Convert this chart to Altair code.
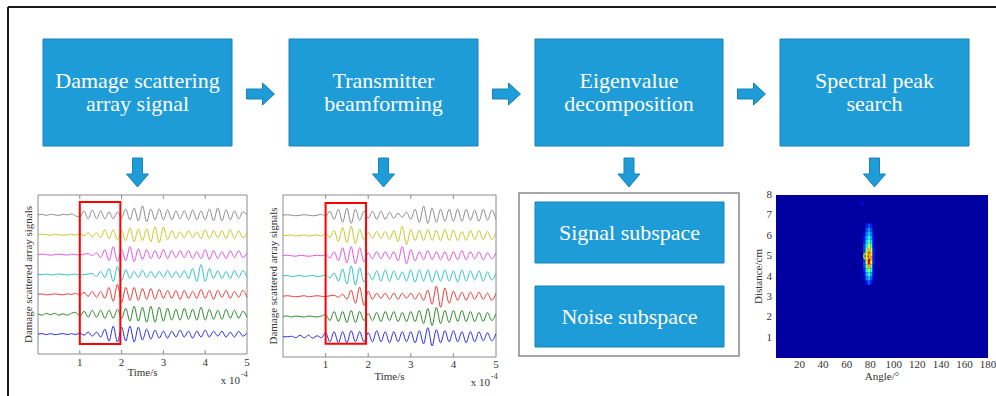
import altair as alt
import pandas as pd

W, H = 996, 396
SERIF = "Liberation Serif"
BLUE = "#1e9cd7"
BLUE_EDGE = "#1982b8"
INK = "#333333"

# ---------------- diagram content ----------------
step_labels = ["Damage scattering\narray signal", "Transmitter\nbeamforming",
               "Eigenvalue\ndecomposition", "Spectral peak\nsearch"]
box_x0 = [43, 289, 535, 780]
box_x1 = [232, 478, 723, 969]
box_y0, box_y1 = 39, 146

sub_labels = ["Signal subspace", "Noise subspace"]
sub_x0, sub_x1 = 535, 724
sub_y0 = [202, 286]
sub_y1 = [263, 347]
frame3 = [519, 739, 193, 356]

# ---------------- signal panels (time in units of 1e-4 s, step 0.1) ----------------
trace_names = ["gray", "yellow", "magenta", "cyan", "red", "green", "blue"]
trace_colors = ["#8c8c8c", "#c9c92a", "#e055e0", "#2ec4c4", "#ee3b3b", "#2a8a2a", "#2b2bef"]

p1_gray = [0, 0.5, -0.5, 0.5, 0, -0.5, 0.5, 0, 1, -1,
           -2, 4, -4, 5, -4, 4, -4, 3, -4, 3, -3, 6, -5, 7, -6, 9, -7, 6, -5, 6,
           -5, 5, -5, 4, -4, 4, -5, 5, -5, 4, -5, 6, -6, 7, -6, 5, -5, 4, -4, 3, 0]
p1_yellow = [0, 0.5, 0, -0.5, 0.5, 0, -0.5, 0, 0.5, -0.5,
             1, -1, 2, -2, 2, -3, 5, -4, 5, -5, 4, -6, 7, -7, 6, -6, 6, -7, 8, -8,
             8, -5, 4, -4, 3, -3, 4, -3, 3, -4, 5, -4, 4, -3, 4, -4, 5, -4, 4, -3, 2]
p1_magenta = [0, 0.5, 0, -0.5, 0, 0.5, 0, -0.5, 0.5, 0, -0.5, 0.5,
              1, -1, 2, -3, 5, -6, 8, -7, 5, -6, 8, -7, 6, -5, 5, -4, 4, -4,
              5, -4, 4, -3, 4, -3, 4, -4, 3, -4, 5, -5, 4, -4, 3, -4, 4, -3, 4, -3, 2]
p1_cyan = [0, 0, 0.5, -0.5, 0, 0.5, 0, -0.5, 0, 0.5, -0.5, 0, 0.5,
           1, -2, 3, -3, 6, -7, 8, -6, 5, -4, 3, -3, 4, -3, 3, -3, 3,
           -3, 4, -3, 3, -3, 4, -4, 6, -7, 10, -7, 6, -4, 4, -4, 3, -4, 4, -3, 4, -3]
p1_red = [0, 0.5, -0.5, 0, 0.5, 0, -0.5, 0.5, 0,
          1, -1, 2, -2, 3, -3, 3, -4, 7, -7, 10, -8, 7, -6, 7, -6, 6, -5, 6, -5, 5,
          -4, 4, -4, 4, -5, 4, -4, 3, -4, 5, -4, 4, -5, 4, -3, 4, -4, 3, -3, 4, -3]
p1_green = [0.5, -1, 1, -0.5, 1, -1, 0.5, -1, 1,
            2, -2, 3, -3, 4, -3, 4, -4, 4, -4, 5, -4, 6, -7, 8, -7, 7, -8, 8, -8, 7,
            -7, 6, -6, 5, -6, 6, -5, 5, -6, 7, -6, 5, -5, 4, -5, 5, -4, 4, -4, 3, -3]
p1_blue = [0, 0.5, -0.5, 0.5, -0.5, 0, 0.5, -0.5, 0.5, -0.5,
           1, -1, 2, -2, 2, -3, 5, -7, 8, -8, 7, -7, 8, -8, 7, -6, 5, -5, 4, -4,
           3, -4, 3, -3, 4, -3, 3, -4, 3, -3, 4, -3, 3, -2, 3, -3, 2, -3, 3, -2, 1]

p2_gray = [0, 0.5, 0, -0.5, 0, 0.5, 0, -0.5, 0,
           1, -1, 4, -4, 6, -7, 7, -8, 6, -5, 4, -3, 4, -4, 4, -4, 3, -3, 2, -2, 3,
           -4, 6, -7, 9, -8, 7, -7, 6, -6, 6, -6, 6, -6, 6, -5, 5, -6, 6, -5, 5, -4]
p2_yellow = [0, 0, 0.5, -0.5, 0, 0.5, -0.5, 0, 0.5, -0.5,
             2, -2, 5, -6, 8, -7, 9, -8, 6, -4, 3, -3, 4, -3, 4, -4, 5, -6, 9, -9,
             6, -5, 5, -5, 6, -5, 5, -5, 6, -5, 5, -5, 4, -5, 5, -4, 5, -4, 4, -4, 3]
p2_magenta = [0, 0.5, 0, -0.5, 0.5, 0, -0.5, 0, 0.5, 0,
              1, -2, 4, -5, 8, -7, 9, -8, 8, -6, 3, -3, 4, -3, 4, -3, 4, -5, 9, -8,
              6, -5, 4, -4, 5, -4, 4, -4, 4, -5, 4, -4, 5, -4, 4, -3, 4, -4, 3, -3, 3]
p2_cyan = [0, 0.5, -0.5, 0, 0.5, -0.5, 0, 0.5, -0.5, 0,
           1, -2, 3, -5, 7, -8, 10, -9, 8, -6, 3, -4, 5, -5, 6, -5, 5, -4, 4, -5,
           6, -6, 6, -5, 6, -6, 5, -5, 6, -5, 5, -6, 6, -5, 5, -4, 5, -5, 4, -4, 3]
p2_red = [0, 0.5, 0, -0.5, 0, 0.5, -0.5, 0, 0.5, 0, -0.5, 0.5,
          1, -1, 2, -3, 6, -7, 9, -9, 5, -3, 3, -2, 3, -3, 3, -3, 3, -2,
          3, -3, 3, -4, 6, -8, 10, -11, 8, -7, 5, -4, 4, -4, 4, -3, 4, -3, 3, -4, 3]
p2_green = [0, 0.5, -0.5, 0.5, 0, -0.5, 0.5, 0, -0.5, 0.5,
            2, -4, 5, -5, 5, -6, 6, -6, 5, -4, 3, -4, 4, -5, 5, -4, 5, -5, 4, -5,
            5, -5, 6, -7, 8, -9, 9, -7, 6, -6, 6, -5, 6, -5, 5, -5, 4, -5, 4, -4, 3]
p2_blue = [0, 0, 0.5, -1, 1.5, -1, 1.5, -1.5, 1, -1,
           4, -5, 5, -6, 5, -6, 6, -5, 5, -5, 4, -5, 6, -5, 5, -6, 5, -5, 5, -5,
           5, -6, 6, -7, 9, -9, 7, -6, 6, -5, 6, -5, 5, -6, 5, -5, 5, -4, 4, -4, 3]

panel1_traces = [p1_gray, p1_yellow, p1_magenta, p1_cyan, p1_red, p1_green, p1_blue]
panel2_traces = [p2_gray, p2_yellow, p2_magenta, p2_cyan, p2_red, p2_green, p2_blue]
time_ticks = [1, 2, 3, 4, 5]
window1 = [1.0, 1.97, 10, 153]   # highlighted window (t0, t1, v0, v1)
window2 = [1.0, 1.95, 13, 152]

# ---------------- spectrum (angle deg, distance cm) ----------------
heat_angles = [74, 76, 78, 80, 82]        # cell starts, width 2
heat_dists = [6.4, 6.2, 6.0, 5.8, 5.6, 5.4, 5.2, 5.0, 4.8, 4.6, 4.4, 4.2, 4.0, 3.8, 3.6]  # height 0.2
heat_vals = [
    [0.00, 0.15, 0.20, 0.15, 0.00],
    [0.00, 0.20, 0.28, 0.20, 0.00],
    [0.10, 0.25, 0.33, 0.25, 0.05],
    [0.15, 0.30, 0.40, 0.30, 0.10],
    [0.15, 0.35, 0.48, 0.35, 0.10],
    [0.20, 0.40, 0.58, 0.45, 0.12],
    [0.20, 0.50, 0.70, 0.55, 0.15],
    [0.22, 0.60, 0.85, 0.65, 0.15],
    [0.22, 0.62, 0.92, 0.70, 0.15],
    [0.20, 0.58, 0.90, 0.62, 0.15],
    [0.20, 0.50, 0.72, 0.50, 0.12],
    [0.15, 0.40, 0.55, 0.40, 0.10],
    [0.12, 0.32, 0.42, 0.30, 0.08],
    [0.05, 0.25, 0.32, 0.22, 0.05],
    [0.00, 0.15, 0.22, 0.15, 0.00],
]
stray_cell = [72, 7.5, 0.12]
peak_mark = [77, 5.0]
angle_ticks = [20, 40, 60, 80, 100, 120, 140, 160, 180]
dist_ticks = [1, 2, 3, 4, 5, 6, 7, 8]
jet_stops = [0, 0.125, 0.375, 0.625, 0.875, 1]
jet_colors = ["#0000a0", "#0000ff", "#00ffff", "#ffff00", "#ff0000", "#800000"]

# ======================================================================
px_x = alt.Scale(domain=[0, W], range=[0, W], nice=False, zero=False)
px_y = alt.Scale(domain=[0, H], range=[0, H], nice=False, zero=False)


def X(f):
    return alt.X(f, type="quantitative", scale=px_x, axis=None)


def Y(f):
    return alt.Y(f, type="quantitative", scale=px_y, axis=None)


boxes = pd.DataFrame({"x0": box_x0, "x1": box_x1, "y0": box_y0, "y1": box_y1,
                      "label": step_labels})
boxes["cx"] = (boxes.x0 + boxes.x1) / 2
boxes["ty"] = box_y0 + 49
subs = pd.DataFrame({"x0": sub_x0, "x1": sub_x1, "y0": sub_y0, "y1": sub_y1, "label": sub_labels})
subs["cx"] = (subs.x0 + subs.x1) / 2
subs["cy"] = (subs.y0 + subs.y1) / 2
all_boxes = pd.concat([boxes[["x0", "x1", "y0", "y1"]], subs[["x0", "x1", "y0", "y1"]]])

rarrows = pd.DataFrame({"x": [(box_x1[i] + box_x0[i + 1]) / 2 for i in range(3)],
                        "y": [(box_y0 + box_y1) / 2 + 1.5] * 3})
darrows = pd.DataFrame({"x": list(boxes.cx), "y": [box_y1 + 26.5] * 4})

border = pd.DataFrame({"x": [8, 8], "x2": [W, 8], "y": [7, 7], "y2": [7, H]})
frame3_df = pd.DataFrame({"x0": [frame3[0]], "x1": [frame3[1]], "y0": [frame3[2]], "y1": [frame3[3]]})

RIGHT = "M-1,-0.357L0.143,-0.357L0.143,-0.786L1,0L0.143,0.786L0.143,0.357L-1,0.357Z"
DOWN = "M-0.345,-1L0.345,-1L0.345,0.103L0.759,0.103L0,1L-0.759,0.103L-0.345,0.103Z"

d_border = alt.Chart(border).mark_rule(color="#1a1a1a", strokeWidth=2).encode(
    x=X("x"), x2="x2", y=Y("y"), y2="y2")
d_frame3 = alt.Chart(frame3_df).mark_rect(filled=False, stroke="#8a8a8a", strokeWidth=1.5).encode(
    x=X("x0"), x2="x1", y=Y("y0"), y2="y1")
d_boxes = alt.Chart(all_boxes).mark_rect(fill=BLUE, stroke=BLUE_EDGE, strokeWidth=1).encode(
    x=X("x0"), x2="x1", y=Y("y0"), y2="y1")
d_text = alt.Chart(boxes).mark_text(font=SERIF, fontSize=22, color="white", align="center",
                                    baseline="alphabetic", lineBreak="\n", lineHeight=23).encode(
    x=X("cx"), y=Y("ty"), text="label")
d_subtext = alt.Chart(subs).mark_text(font=SERIF, fontSize=22, color="white", align="center",
                                      baseline="middle").encode(
    x=X("cx"), y=Y("cy"), text="label")
d_rarrow = alt.Chart(rarrows).mark_point(shape=RIGHT, size=784, filled=True, color=BLUE,
                                         stroke=BLUE_EDGE, strokeWidth=1, opacity=1).encode(
    x=X("x"), y=Y("y"))
d_darrow = alt.Chart(darrows).mark_point(shape=DOWN, size=841, filled=True, color=BLUE,
                                         stroke=BLUE_EDGE, strokeWidth=1, opacity=1).encode(
    x=X("x"), y=Y("y"))

exp_df = pd.DataFrame({"x": [240, 490], "y": [384, 386]})
sup_df = pd.DataFrame({"x": [241, 491], "y": [377, 379]})
d_exp = alt.Chart(exp_df).mark_text(font=SERIF, fontSize=11, color=INK, align="right",
                                    baseline="alphabetic", text="x 10").encode(x=X("x"), y=Y("y"))
d_sup = alt.Chart(sup_df).mark_text(font=SERIF, fontSize=8, color=INK, align="left",
                                    baseline="alphabetic", text="-4").encode(x=X("x"), y=Y("y"))

diagram = alt.layer(d_border, d_frame3, d_boxes, d_text, d_subtext, d_rarrow, d_darrow, d_exp, d_sup)


def tick_labels(ticks, xs, y_px):
    df = pd.DataFrame({"t": ticks, "lab": [str(t) for t in ticks]})
    return alt.Chart(df).mark_text(font=SERIF, fontSize=11, color=INK, align="center",
                                   baseline="middle").encode(
        x=alt.X("t:Q", scale=xs, axis=None), y=alt.value(y_px), text="lab")


def x_title(text, mid, xs, y_px):
    df = pd.DataFrame({"t": [mid], "s": [text]})
    return alt.Chart(df).mark_text(font=SERIF, fontSize=11, color=INK, align="center",
                                   baseline="middle").encode(
        x=alt.X("t:Q", scale=xs, axis=None), y=alt.value(y_px), text="s")


def y_title(text, x_px, y_px):
    df = pd.DataFrame({"s": [text]})
    return alt.Chart(df).mark_text(font=SERIF, fontSize=11, color=INK, align="center",
                                   baseline="middle", angle=270).encode(
        x=alt.value(x_px), y=alt.value(y_px), text="s")


def signal_panel(traces, x0, x1, ytop, ybot, window, lab_y, title_y):
    rows = []
    for k, (name, vals) in enumerate(zip(trace_names, traces)):
        off = (len(trace_names) - k) * 20
        for i, a in enumerate(vals):
            rows.append({"t": round(i * 0.1, 2), "v": off + a, "trace": name})
    df = pd.DataFrame(rows)
    xs = alt.Scale(domain=[0, 5], range=[x0, x1], nice=False, zero=False)
    ys = alt.Scale(domain=[0, 160], range=[ybot, ytop], nice=False, zero=False)
    frame = pd.DataFrame({"t0": [0], "t1": [5], "v0": [0], "v1": [160]})
    fr = alt.Chart(frame).mark_rect(filled=False, stroke="#8c8c8c", strokeWidth=1).encode(
        x=alt.X("t0:Q", scale=xs, axis=None), x2="t1", y=alt.Y("v0:Q", scale=ys, axis=None), y2="v1")
    tk = pd.DataFrame({"t": time_ticks[:-1] * 2, "a": [0] * 4 + [156] * 4, "b": [4] * 4 + [160] * 4})
    ticks = alt.Chart(tk).mark_rule(color="#8c8c8c", strokeWidth=1).encode(
        x=alt.X("t:Q", scale=xs, axis=None), y=alt.Y("a:Q", scale=ys, axis=None), y2="b")
    lines = alt.Chart(df).mark_line(strokeWidth=1, interpolate="monotone").encode(
        x=alt.X("t:Q", scale=xs, axis=None),
        y=alt.Y("v:Q", scale=ys, axis=None),
        color=alt.Color("trace:N", scale=alt.Scale(domain=trace_names, range=trace_colors), legend=None))
    wdf = pd.DataFrame({"t0": [window[0]], "t1": [window[1]], "v0": [window[2]], "v1": [window[3]]})
    win = alt.Chart(wdf).mark_rect(filled=False, stroke="#ff0000", strokeWidth=2).encode(
        x=alt.X("t0:Q", scale=xs, axis=None), x2="t1", y=alt.Y("v0:Q", scale=ys, axis=None), y2="v1")
    labs = tick_labels(time_ticks, xs, lab_y)
    xt = x_title("Time/s", 2.5, xs, title_y)
    yt = y_title("Damage scattered array signals", x0 - 9, (ytop + ybot) / 2)
    return alt.layer(fr, ticks, lines, win, labs, xt, yt)


panel1 = signal_panel(panel1_traces, 38, 247, 195, 354, window1, 362.5, 373)
panel2 = signal_panel(panel2_traces, 283, 496, 195, 357, window2, 365, 377)

# heatmap
hrows = [{"a0": 0, "a1": 180, "d0": 0, "d1": 8, "v": 0}]
hrows.append({"a0": stray_cell[0], "a1": stray_cell[0] + 2, "d0": stray_cell[1],
              "d1": stray_cell[1] + 0.2, "v": stray_cell[2]})
for r, d in enumerate(heat_dists):
    for c, a in enumerate(heat_angles):
        hrows.append({"a0": a, "a1": a + 2, "d0": d, "d1": d + 0.2, "v": heat_vals[r][c]})
hdf = pd.DataFrame(hrows)
hx = alt.Scale(domain=[0, 180], range=[776, 988], nice=False, zero=False)
hy = alt.Scale(domain=[0, 8], range=[358, 195], nice=False, zero=False)
heat = alt.Chart(hdf).mark_rect().encode(
    x=alt.X("a0:Q", scale=hx, axis=None), x2="a1",
    y=alt.Y("d0:Q", scale=hy, axis=None), y2="d1",
    color=alt.Color("v:Q", scale=alt.Scale(domain=jet_stops, range=jet_colors, interpolate="rgb"),
                    legend=None))
pk = alt.Chart(pd.DataFrame({"a": [peak_mark[0]], "d": [peak_mark[1]]})).mark_point(
    shape="circle", filled=False, stroke="#d8d800", strokeWidth=1.2, size=36, opacity=1).encode(
    x=alt.X("a:Q", scale=hx, axis=None), y=alt.Y("d:Q", scale=hy, axis=None))
h_xlab = tick_labels(angle_ticks, hx, 365)
h_xt = x_title("Angle/°", 90, hx, 377)
dl = pd.DataFrame({"d": dist_ticks, "lab": [str(d) for d in dist_ticks]})
h_ylab = alt.Chart(dl).mark_text(font=SERIF, fontSize=11, color=INK, align="right",
                                 baseline="middle").encode(
    x=alt.value(772), y=alt.Y("d:Q", scale=hy, axis=None), text="lab")
h_yt = y_title("Distance/cm", 759, (195 + 358) / 2)
heat_panel = alt.layer(heat, pk, h_xlab, h_xt, h_ylab, h_yt)

chart = alt.layer(diagram, panel1, panel2, heat_panel).resolve_scale(
    x="independent", y="independent", color="independent"
).properties(
    width=W, height=H, padding=0, autosize=alt.AutoSizeParams(type="none"), background="white"
).configure_view(stroke=None)

chart.save("out.html", embed_options={"renderer": "svg", "actions": False})
